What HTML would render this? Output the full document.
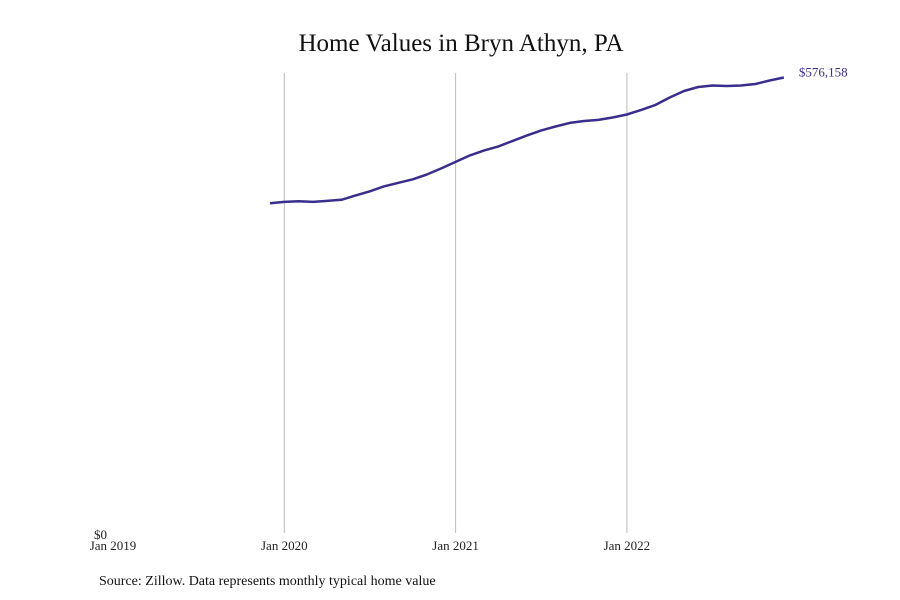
<!DOCTYPE html>
<html><head><meta charset="utf-8"><style>
body{margin:0;background:#fff;}
svg{display:block;font-family:"Liberation Serif",serif;}
</style></head><body>
<svg id="chart" width="900" height="600" viewBox="0 0 900 600">
<rect width="900" height="600" fill="#fff"/>
<text x="461" y="51" text-anchor="middle" font-size="25" fill="#111">Home Values in Bryn Athyn, PA</text>
<g id="grid"></g>
<g id="xticks"></g>
<text x="94" y="539" font-size="13" fill="#222">$0</text>
<path id="line" fill="none" stroke="#3a2e8c" stroke-width="2.5" stroke-linejoin="round"/>
<text id="endlabel" font-size="13" fill="#3a2e8c"></text>
<text x="99" y="585" font-size="14" fill="#111">Source: Zillow. Data represents monthly typical home value</text>
</svg>
<script>
const startYear = 2019;
const startMonthIndex = 11; // months after Jan 2019 for first point (Dec 2019)
const tickLabels = ["Jan 2019","Jan 2020","Jan 2021","Jan 2022"];
const gridYears = [1,2,3];
const values = [417700,419500,420200,419500,420800,422100,427700,432800,439100,443500,447900,454100,461700,469900,478100,484300,489400,496300,503200,509500,514500,519000,521400,522700,525800,529600,535300,541600,551000,559200,564200,566100,565500,566100,568000,572400,576158];
const endLabel = "$576,158";

const x0 = 113, pxPerMonth = 171.3/12, yBase = 535, yMax = 576158, yTop = 77.5;
const xs = m => x0 + m*pxPerMonth;
const ys = v => yBase - v/yMax*(yBase-yTop);
const NS = "http://www.w3.org/2000/svg";
const grid = document.getElementById('grid');
gridYears.forEach(y=>{
  const l=document.createElementNS(NS,'line');
  
  
  l.setAttribute('x1',xs(y*12));l.setAttribute('x2',xs(y*12));
  l.setAttribute('y1',73);l.setAttribute('y2',533);
  l.setAttribute('stroke','#bbb');l.setAttribute('stroke-width','1');
  grid.appendChild(l);
});
const xt=document.getElementById('xticks');
tickLabels.forEach((t,i)=>{
  const e=document.createElementNS(NS,'text');
  
  
  e.setAttribute('x',xs(i*12));e.setAttribute('y',550);
  e.setAttribute('text-anchor','middle');e.setAttribute('font-size','13');e.setAttribute('fill','#222');
  e.textContent=t;xt.appendChild(e);
});
let d="";
values.forEach((v,i)=>{d+=(i?"L":"M")+xs(startMonthIndex+i).toFixed(1)+","+ys(v).toFixed(1);});
document.getElementById('line').setAttribute('d',d);
const last=values.length-1;
const el=document.getElementById('endlabel');
el.setAttribute('x',xs(startMonthIndex+last)+15);
el.setAttribute('y',ys(values[last])-1);
el.textContent=endLabel;
</script>
</body></html>
